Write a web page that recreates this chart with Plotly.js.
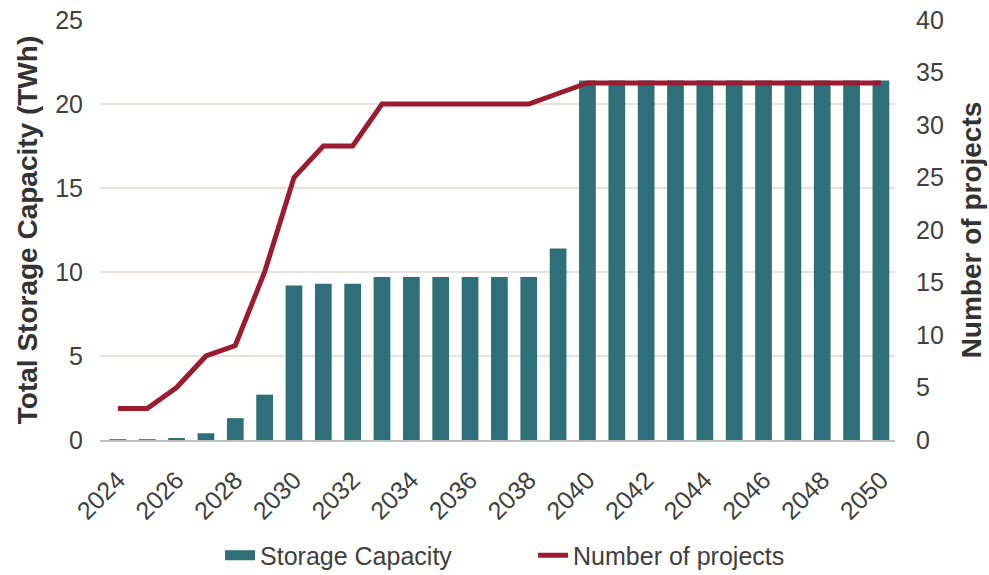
<!DOCTYPE html>
<html>
<head>
<meta charset="utf-8">
<script src="https://cdn.plot.ly/plotly-3.0.1.min.js"></script>
<style>html,body{margin:0;padding:0;background:#fff;}#chart{width:989px;height:575px;}</style>
</head>
<body>
<div id="chart"></div>
<script>
const years = [2024,2025,2026,2027,2028,2029,2030,2031,2032,2033,2034,2035,2036,2037,2038,2039,2040,2041,2042,2043,2044,2045,2046,2047,2048,2049,2050];
const storageCapacity = [0.05,0.05,0.12,0.4,1.3,2.7,9.2,9.3,9.3,9.7,9.7,9.7,9.7,9.7,9.7,11.4,21.4,21.4,21.4,21.4,21.4,21.4,21.4,21.4,21.4,21.4,21.4];
const numberOfProjects = [3,3,5,8,9,16,25,28,28,32,32,32,32,32,32,33,34,34,34,34,34,34,34,34,34,34,34];
const xTickVals = [2024,2026,2028,2030,2032,2034,2036,2038,2040,2042,2044,2046,2048,2050];
const leftTicks = [0,5,10,15,20,25];
const rightTicks = [0,5,10,15,20,25,30,35,40];

const font = '"Liberation Sans", Arial, sans-serif';
const teal = '#2F6F79';
const red = '#9B1B30';
const traces = [
  {type:'bar', x:years, y:storageCapacity, name:'Storage Capacity', marker:{color:teal}, yaxis:'y', showlegend:false},
  {type:'scatter', mode:'lines', x:[null], y:[null], name:'Storage Capacity', line:{color:teal, width:12}, yaxis:'y', showlegend:true},
  {type:'scatter', mode:'lines', x:years, y:numberOfProjects, name:'Number of projects', line:{color:red, width:5}, yaxis:'y2'}
];
const layout = {
  width:989, height:575,
  margin:{l:100, r:94, t:20, b:135},
  paper_bgcolor:'#fff', plot_bgcolor:'#fff',
  font:{family:font, size:25, color:'#404040'},
  bargap:0.43,
  showlegend:true,
  legend:{orientation:'h', x:0.2225, xanchor:'left', xref:'container', y:0.034, yanchor:'middle', yref:'container',
          font:{size:25, color:'#404040'}, traceorder:'normal', entrywidth:268, entrywidthmode:'pixels'},
  xaxis:{range:[2023.39,2050.48], tickmode:'array', tickvals:xTickVals, ticktext:xTickVals.map(String), tickangle:-45,
         automargin:false, ticklabelstandoff:14,
         showgrid:false, showline:true, linecolor:'#BFBFBF', linewidth:1.5, ticks:'', zeroline:false, tickfont:{size:25,color:'#404040'}},
  yaxis:{range:[0,25], tickmode:'array', tickvals:leftTicks, showgrid:true, gridcolor:'#E6E1DD', gridwidth:1.5, zeroline:false,
         automargin:false, ticklabelstandoff:16,
         ticks:'', tickfont:{size:25,color:'#404040'},
         title:{text:'<b>Total Storage Capacity (TWh)</b>', font:{size:28,color:'#333333'}, standoff:9}},
  yaxis2:{range:[0,40], overlaying:'y', side:'right', tickmode:'array', tickvals:rightTicks, showgrid:false, zeroline:false,
          automargin:false, ticklabelstandoff:20,
          ticks:'', tickfont:{size:25,color:'#404040'},
          title:{text:'<b>Number of projects</b>', font:{size:28,color:'#333333'}, standoff:18}}
};
Plotly.newPlot('chart', traces, layout, {displayModeBar:false, staticPlot:true});
</script>
</body>
</html>
